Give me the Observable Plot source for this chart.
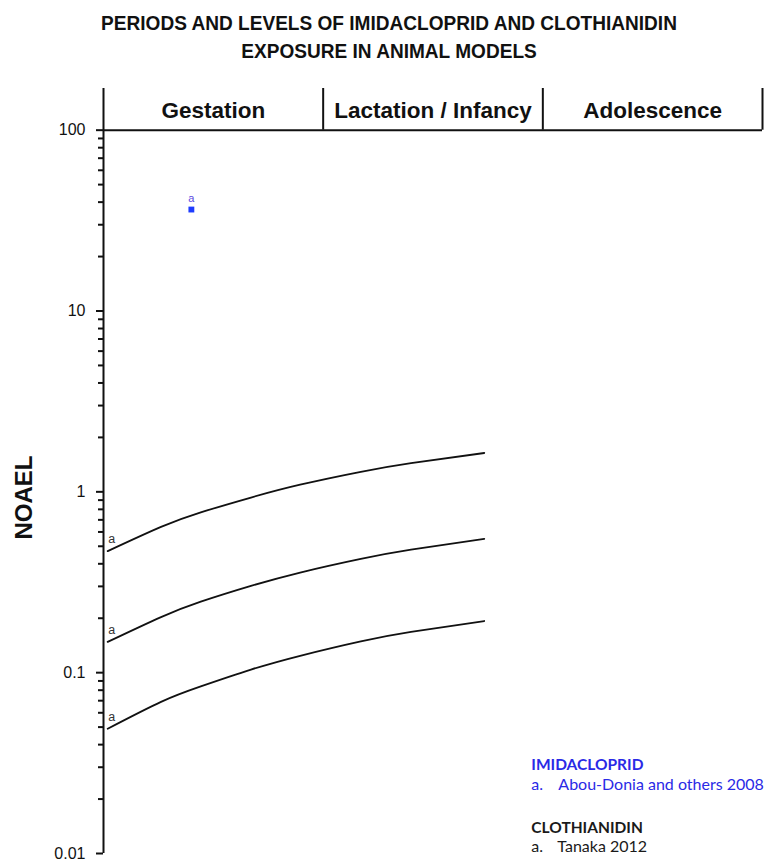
<!DOCTYPE html>
<html><head><meta charset="utf-8">
<script src="https://cdn.jsdelivr.net/npm/d3@7"></script>
<script src="https://cdn.jsdelivr.net/npm/@observablehq/plot@0.6"></script>
<style>
body{margin:0;background:#fff;overflow:hidden;}
#title{width:765px;height:62px;box-sizing:border-box;padding-top:9px;padding-left:13px;text-align:center;font-family:"Liberation Sans",Arial,sans-serif;font-weight:bold;font-size:20.5px;line-height:27.5px;color:#111;transform:scaleX(0.93);transform-origin:389px 0;white-space:nowrap;}
</style></head><body>
<div id="title">PERIODS AND LEVELS OF IMIDACLOPRID AND CLOTHIANIDIN<br>EXPOSURE IN ANIMAL MODELS</div>
<div id="chart"></div>
<script>
// Periods (days) and labels
const periods = ["Gestation", "Lactation / Infancy", "Adolescence"];
const periodBounds = [0, 21, 42, 63];

// Clothianidin curves (Tanaka 2012)
const curveDays = [0.4, 5.5, 9.3, 14.1, 18.8, 24.6, 29.4, 36.4];
const clothianidinHigh = [0.47, 0.64, 0.77, 0.93, 1.095, 1.29, 1.44, 1.64];
const clothianidinMid  = [0.148, 0.203, 0.247, 0.302, 0.358, 0.426, 0.479, 0.549];
const clothianidinLow  = [0.049, 0.069, 0.084, 0.104, 0.124, 0.149, 0.168, 0.193];
const curveNames = ["high", "mid", "low"];
const curveLabels = ["a", "a", "a"];

// Imidacloprid point (Abou-Donia and others 2008)
const imidaclopridDay = [8.4];
const imidaclopridNoael = [36.4];
const imidaclopridLabels = ["a"];

// Y axis ticks
const majorTicks = [0.01, 0.1, 1, 10, 100];
const majorTickLabels = ["0.01", "0.1", "1", "10", "100"];
const minorMultipliers = [2, 3, 4, 5, 6, 7, 8, 9];

// Legend
const legendCompounds = ["IMIDACLOPRID", "CLOTHIANIDIN"];
const legendRefs = ["Abou-Donia and others 2008", "Tanaka 2012"];
const legendColors = ["#2a2ae6", "#1a1a1a"];

const curveValues = [clothianidinHigh, clothianidinMid, clothianidinLow];
const rows = [];
curveNames.forEach((s, i) => curveDays.forEach((d, j) => rows.push({series: s, day: d, value: curveValues[i][j]})));
const starts = curveNames.map((s, i) => ({series: s, day: curveDays[0], value: curveValues[i][0], label: curveLabels[i]}));
const points = imidaclopridDay.map((d, i) => ({day: d, value: imidaclopridNoael[i], label: imidaclopridLabels[i]}));
const minorTicks = [];
[0.01, 0.1, 1, 10].forEach(b => minorMultipliers.forEach(m => minorTicks.push(+(b * m).toPrecision(3))));

const legendX = 40.9;
const refDx = 27;
const FONT = '"Liberation Sans", Arial, sans-serif';
const LFONT = 'Lato, "Open Sans", sans-serif';

const chart = Plot.plot({
  width: 765, height: 801,
  marginTop: 26, marginBottom: 10, marginLeft: 103, marginRight: 3,
  style: {fontFamily: FONT, background: "#fff", overflow: "visible", color: "#111"},
  x: {domain: [0, 63], axis: null},
  y: {type: "log", domain: [0.01, 170], axis: null},
  marks: [
    Plot.axisY(minorTicks, {tickSize: 5, strokeWidth: 2, tickFormat: () => "", label: null}),
    Plot.axisY(majorTicks, {tickSize: 7, tickPadding: 11, strokeWidth: 2, fontSize: 16, label: null,
      tickFormat: d => majorTickLabels[majorTicks.indexOf(d)]}),
    Plot.ruleX([0], {y1: 0.01, y2: 170, strokeWidth: 2}),
    Plot.ruleY([100], {x1: 0, x2: 63, strokeWidth: 2}),
    Plot.ruleX(periodBounds.slice(1), {y1: 100, y2: 170, strokeWidth: 2}),
    Plot.text(periods, {x: (d, i) => (periodBounds[i] + periodBounds[i + 1]) / 2, y: 128, text: d => d,
      fontSize: 22.5, fontWeight: "bold", fill: "#111"}),
    Plot.line(rows, {x: "day", y: "value", z: "series", curve: "natural", stroke: "#111", strokeWidth: 1.8}),
    Plot.text(starts, {x: "day", y: "value", text: "label", dx: 4, dy: -12, fontSize: 12.5, fill: "#333"}),
    Plot.dot(points, {x: "day", y: "value", symbol: "square", r: 3.3, fill: "#1e3cff", stroke: "none"}),
    Plot.text(points, {x: "day", y: "value", text: "label", dy: -11, fontSize: 11, fill: "#5a4be0"}),
    Plot.text(["NOAEL"], {frameAnchor: "left", y: [0.93], text: d => d, rotate: -90, dx: -79, textAnchor: "middle",
      fontSize: 24, fontWeight: "bold", fill: "#111"}),
    // Legend
    Plot.text([legendCompounds[0]], {x: [legendX], frameAnchor: "bottom", text: d => d, dy: -84, textAnchor: "start",
      fontFamily: LFONT, fontWeight: "bold", fontSize: 15.5, fill: legendColors[0]}),
    Plot.text(["a."], {x: [legendX], frameAnchor: "bottom", text: d => d, dy: -64, textAnchor: "start",
      fontFamily: LFONT, fontSize: 16, fill: legendColors[0]}),
    Plot.text([legendRefs[0]], {x: [legendX], frameAnchor: "bottom", text: d => d, dx: refDx, dy: -64, textAnchor: "start",
      fontFamily: LFONT, fontSize: 16, fill: legendColors[0]}),
    Plot.text([legendCompounds[1]], {x: [legendX], frameAnchor: "bottom", text: d => d, dy: -20.5, textAnchor: "start",
      fontFamily: LFONT, fontWeight: "bold", fontSize: 15.5, fill: legendColors[1]}),
    Plot.text(["a."], {x: [legendX], frameAnchor: "bottom", text: d => d, dy: -1.5, textAnchor: "start",
      fontFamily: LFONT, fontSize: 16, fill: legendColors[1]}),
    Plot.text([legendRefs[1]], {x: [legendX], frameAnchor: "bottom", text: d => d, dx: refDx - 1, dy: -1.5, textAnchor: "start",
      fontFamily: LFONT, fontSize: 16, fill: legendColors[1]})
  ]
});
document.getElementById("chart").appendChild(chart);
</script></body></html>
